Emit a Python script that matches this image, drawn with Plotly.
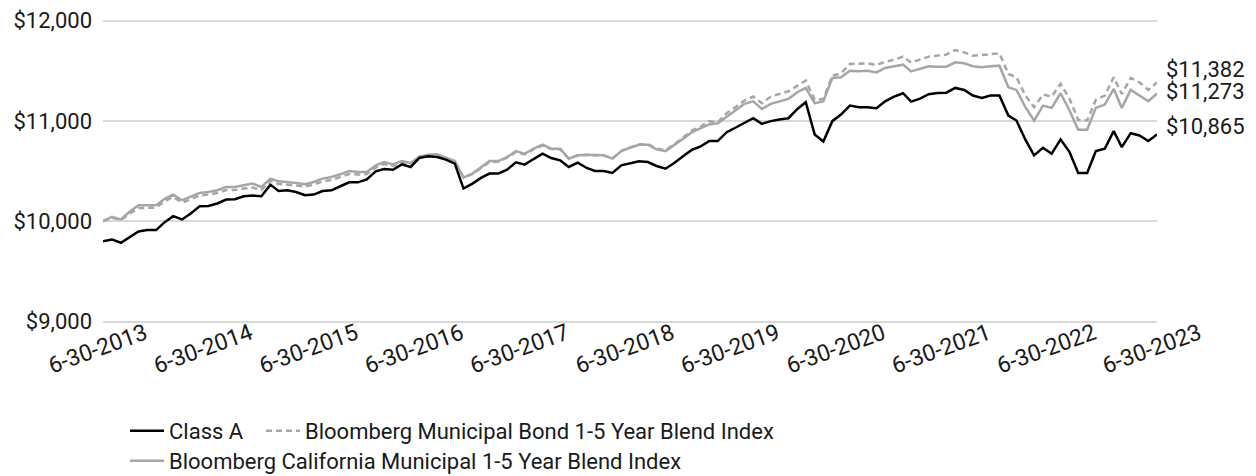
import pandas as pd
import plotly.graph_objects as go

dates = pd.date_range("2013-06-30", "2023-06-30", freq="ME")

class_a = [
    9800, 9818, 9785, 9844, 9897, 9911, 9911, 9993, 10050, 10017, 10076, 10149, 10152, 10176, 10216, 10219,
    10248, 10255, 10248, 10364, 10301, 10308, 10291, 10258, 10265, 10301, 10308, 10348, 10387, 10387, 10417,
    10497, 10520, 10513, 10566, 10540, 10630,
    10646, 10639, 10613, 10573, 10325, 10374, 10434, 10474, 10474, 10513, 10586, 10563, 10619, 10672, 10629,
    10606, 10540, 10583, 10530, 10500, 10500, 10480, 10556, 10573, 10596, 10589, 10550, 10523, 10579, 10646,
    10712, 10742, 10798, 10798, 10887,
    10931, 10980, 11026, 10970, 10997, 11013, 11026, 11119, 11185, 10864, 10795, 10997, 11063, 11152, 11136,
    11136, 11126, 11195, 11242, 11275, 11192, 11222, 11265, 11278, 11281, 11328, 11308, 11252, 11229, 11252, 11252,
    11053, 11003, 10812, 10656, 10732, 10672, 10815, 10689, 10480, 10480, 10699, 10722, 10897, 10738, 10877,
    10854, 10798, 10865,
]

muni_bond = [
    10000, 10035, 10010, 10075, 10130, 10130, 10135, 10200, 10240, 10185, 10220, 10255, 10265, 10280, 10310,
    10310, 10325, 10335, 10310, 10405, 10370, 10365, 10355, 10345, 10365, 10395, 10410, 10440, 10470, 10465,
    10470, 10535, 10570, 10550, 10585, 10570, 10640,
    10660, 10660, 10628, 10590, 10440, 10470, 10530, 10590, 10592, 10632, 10690, 10665, 10715, 10755, 10718,
    10716, 10625, 10655, 10660, 10660, 10655, 10625, 10700, 10735, 10765, 10768, 10722, 10708, 10765, 10835,
    10905, 10937, 10997, 10987, 11076,
    11136, 11202, 11242, 11175, 11242, 11268, 11295, 11351, 11401, 11209, 11219, 11450, 11473, 11567, 11567,
    11573, 11556, 11589, 11609, 11640, 11580, 11610, 11640, 11650, 11660, 11706, 11682, 11649, 11659, 11666, 11672,
    11467, 11434, 11252, 11136, 11262, 11242, 11368, 11219, 11010, 11003, 11209, 11252, 11434, 11268, 11427,
    11384, 11308, 11382,
]

california = [
    10000, 10043, 10017, 10093, 10159, 10159, 10159, 10225, 10265, 10209, 10242, 10282, 10291, 10308, 10341,
    10341, 10358, 10374, 10341, 10424, 10397, 10391, 10381, 10368, 10391, 10424, 10440, 10467, 10500, 10490,
    10490, 10556, 10589, 10566, 10599, 10579, 10643,
    10662, 10666, 10633, 10599, 10434, 10474, 10540, 10599, 10599, 10639, 10698, 10672, 10722, 10762, 10722,
    10722, 10623, 10656, 10662, 10662, 10656, 10623, 10698, 10732, 10762, 10762, 10715, 10698, 10755, 10821,
    10887, 10926, 10964, 10975, 11040,
    11110, 11169, 11195, 11119, 11169, 11195, 11219, 11285, 11328, 11175, 11195, 11427, 11434, 11500, 11493,
    11500, 11483, 11527, 11540, 11560, 11493, 11517, 11543, 11540, 11540, 11583, 11573, 11545, 11533, 11543, 11550,
    11334, 11308, 11136, 11003, 11152, 11129, 11275, 11103, 10911, 10911, 11129, 11162, 11318, 11129, 11308,
    11252, 11195, 11273,
]

tick_years = list(range(2013, 2024))
tick_dates = [pd.Timestamp(f"{y}-06-30") for y in tick_years]
tick_labels = [f"6-30-{y}" for y in tick_years]

y_ticks = [9000, 10000, 11000, 12000]
y_tick_labels = [f"${v:,}" for v in y_ticks]

FONT = "Roboto, Liberation Sans, sans-serif"
GRAY = "#a6a6a6"
TXT = "#1a1a1a"

fig = go.Figure()
fig.add_trace(go.Scatter(
    x=dates, y=california, mode="lines", name="Bloomberg California Municipal 1-5 Year Blend Index",
    line=dict(color=GRAY, width=2.5), legend="legend3", hoverinfo="skip"))
fig.add_trace(go.Scatter(
    x=dates, y=muni_bond, mode="lines", name="Bloomberg Municipal Bond 1-5 Year Blend Index",
    line=dict(color=GRAY, width=2.5, dash="6px,4px"), legend="legend2", hoverinfo="skip"))
fig.add_trace(go.Scatter(
    x=dates, y=class_a, mode="lines", name="Class A",
    line=dict(color="#000000", width=2.5), legend="legend", hoverinfo="skip"))

# end labels
end_shifts = [(class_a[-1], 8), (muni_bond[-1], 13), (california[-1], 2)]
for val, ys in end_shifts:
    fig.add_annotation(x=dates[-1], y=val, text=f"${val:,.0f}", showarrow=False,
                       xanchor="left", yanchor="middle", xshift=7, yshift=ys,
                       font=dict(family=FONT, size=22, color=TXT))

def leg(xpage, ypage_top):
    return dict(orientation="h", x=(xpage - 8 - 95) / 1054, xref="paper",
                y=1 - (ypage_top - 8) / 468, yref="container",
                xanchor="left", yanchor="top",
                font=dict(family=FONT, size=22, color=TXT),
                itemwidth=34, bgcolor="rgba(0,0,0,0)")

fig.update_layout(
    width=1248, height=468,
    margin=dict(l=95, r=99, t=10.5, b=152.5, autoexpand=False),
    paper_bgcolor="white", plot_bgcolor="white",
    font=dict(family=FONT, size=22, color=TXT),
    showlegend=True,
    legend=leg(125, 410),
    legend2=leg(261, 410),
    legend3=leg(125, 440),
)
fig.update_xaxes(
    range=[dates[0], dates[-1]], tickvals=tick_dates, ticktext=tick_labels,
    tickangle=-20, showgrid=False, zeroline=False, showline=False, ticks="",
    tickfont=dict(family=FONT, size=23, color=TXT), ticklabelshift=42, ticklabelstandoff=4,
    automargin=False, ticklabeloverflow="allow", anchor="free", position=12 / 305,
)
fig.update_yaxes(
    range=[8985, 12015], tickvals=y_ticks, ticktext=y_tick_labels,
    showgrid=True, gridcolor="#d9d9d9", gridwidth=1.5, zeroline=False, showline=False, ticks="",
    tickfont=dict(family=FONT, size=22, color=TXT), ticklabelstandoff=10, automargin=False,
    ticklabeloverflow="allow",
)

fig.write_html("out.html")
